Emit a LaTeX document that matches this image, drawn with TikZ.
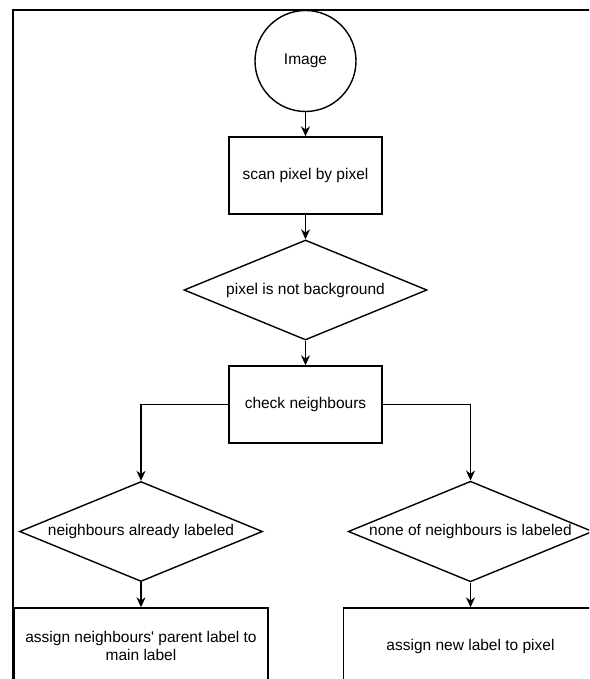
\documentclass[tikz,border=0pt]{standalone}
\usepackage{fontspec}
\setmainfont{Liberation Sans}[Ligatures=TeXOff]
\usetikzlibrary{shapes.geometric,arrows.meta}

\begin{document}
\begin{tikzpicture}[x=1pt,y=1pt,node distance=114.5pt,line width=1.4pt,
  font=\fontsize{15.5}{18.5}\selectfont]
  \tikzstyle{startnode}=[circle,draw=black,inner sep=0pt,minimum size=101pt]
  \tikzstyle{stepbox}=[rectangle,draw=black,fill=white,minimum width=153pt,minimum height=77pt]
  \tikzstyle{wideblock}=[rectangle,draw=black,fill=white,minimum width=254pt,minimum height=76pt,align=center]
  \tikzstyle{decision}=[diamond,draw=black,fill=white,inner sep=1pt,aspect=2.43,minimum width=243pt,minimum height=100pt]
  \tikzstyle{flow}=[-{Stealth[length=10pt,width=9pt]}]

  \useasboundingbox (0,0) rectangle (589,-679);
  \clip (0,0) rectangle (589,-679);

  % frame
  \draw (13,-10) rectangle (700,-760);

  \node[startnode] at (305.5,-61) (img) {Image};
  \node[stepbox, below of=img] (scan) {scan pixel by pixel};
  \node[decision, below of=scan] (notbg) {pixel is not background};
  \node[stepbox, below of=notbg] (check) {check neighbours};

  % decisions
  \node[decision, below of=check, xshift=-164.5pt, yshift=-12.5pt] (labeled) {neighbours already labeled};
  \node[decision, below of=check, xshift=165pt, yshift=-12.5pt] (nonelab) {none of neighbours is labeled};

  % actions
  \node[wideblock, below of=labeled] (parent) {assign neighbours' parent label to\\main label};
  \node[wideblock, below of=nonelab] (newlab) {assign new label to pixel};

  % edges
  \draw[flow] (img) -- (scan);
  \draw[flow] (scan) -- (notbg);
  \draw[flow] (notbg) -- (check);
  \draw[flow] (check.west) -| (labeled.north);
  \draw[flow] (check.east) -| (nonelab.north);
  \draw[flow] (labeled) -- (parent);
  \draw[flow] (nonelab) -- (newlab);

\end{tikzpicture}
\end{document}
